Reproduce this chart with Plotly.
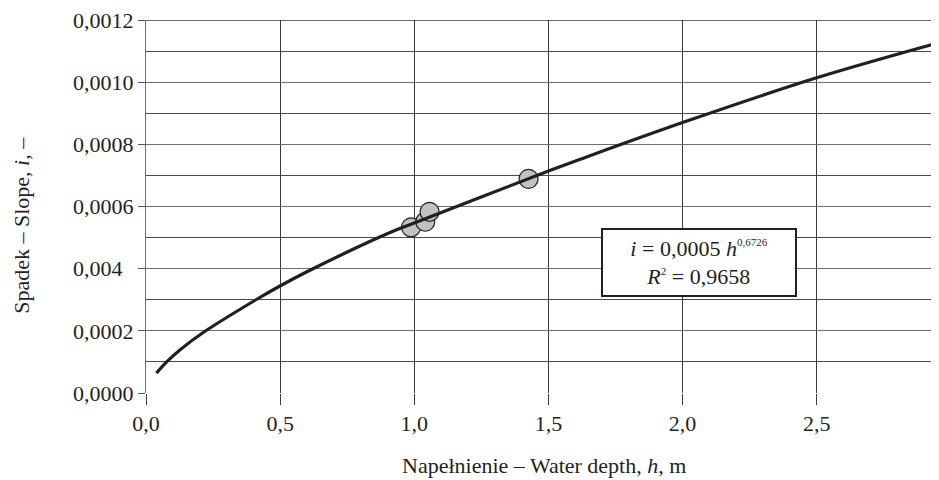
import plotly.graph_objects as go

# Fitted curve (h in m, i dimensionless)
curve_h = [0.039, 0.077, 0.1285, 0.22, 0.41, 0.501, 0.60, 0.836, 0.948, 1.0, 1.5, 1.619, 2.0, 2.5, 2.956]
curve_i = [0.0000640, 0.0001, 0.000140, 0.0001985, 0.000300, 0.000345, 0.000390, 0.000488, 0.000530, 0.000547,
           0.000714, 0.000752, 0.000870, 0.001014, 0.001127]

# Measured points
pts_h = [0.988, 1.041, 1.057, 1.426]
pts_i = [0.000533, 0.000551, 0.000583, 0.000689]

x_tickvals = [0.0, 0.5, 1.0, 1.5, 2.0, 2.5]
x_ticktext = ["0,0", "0,5", "1,0", "1,5", "2,0", "2,5"]
y_tickvals = [0.0, 0.0002, 0.0004, 0.0006, 0.0008, 0.0010, 0.0012]
y_ticktext = ["0,0000", "0,0002", "0,004\u2002", "0,0006", "0,0008", "0,0010", "0,0012"]

FONT = "Liberation Serif"
INK = "#231f20"

fig = go.Figure()
fig.add_trace(go.Scatter(
    x=pts_h, y=pts_i, mode="markers",
    marker=dict(size=19, color="#c2c2c2", line=dict(color=INK, width=1.2)),
    showlegend=False, hoverinfo="skip"))
fig.add_trace(go.Scatter(
    x=curve_h, y=curve_i, mode="lines",
    line=dict(color=INK, width=3.2, shape="spline", smoothing=1.0),
    showlegend=False, hoverinfo="skip"))

# top border of the grid (gridline at the range end)
fig.add_shape(type="line", xref="paper", x0=0, x1=1, yref="y",
              y0=y_tickvals[-1], y1=y_tickvals[-1],
              line=dict(color="#3a3a3a", width=1.3), layer="below")

# the page body adds an 8px margin, so the figure is 8px smaller and shifted
fig.update_layout(
    width=931, height=472,
    margin=dict(l=137.5, r=0, t=12, b=87.3),
    paper_bgcolor="white", plot_bgcolor="white",
    font=dict(family=FONT, size=22, color=INK),
    showlegend=False,
    xaxis=dict(
        range=[0, 2.956], tickvals=x_tickvals, ticktext=x_ticktext,
        showgrid=True, gridcolor="#3a3a3a", gridwidth=1.2,
        ticks="outside", ticklen=11, tickcolor="#3a3a3a", tickwidth=1.2,
        showline=False, zeroline=False, ticklabeloverflow="allow",
        tickfont=dict(family=FONT, size=22, color=INK),
    ),
    yaxis=dict(
        range=[0, 0.0012], tickvals=y_tickvals, ticktext=y_ticktext,
        showgrid=True, gridcolor="#6e6e6e", gridwidth=1.3,
        ticks="outside", ticklen=7, tickcolor="#555", tickwidth=1.2,
        minor=dict(dtick=0.0001, tick0=0, showgrid=True, gridcolor="#4a4a4a", gridwidth=1.2, ticks=""),
        showline=True, linecolor="#6e6e6e", linewidth=1.3,
        zeroline=False, ticklabeloverflow="allow",
        tickfont=dict(family=FONT, size=22, color=INK),
    ),
    annotations=[
        dict(text="<i>i</i> = 0,0005 <i>h</i><sup><span style='font-size:11px'>0,6726</span></sup><br><i>R</i><sup><span style='font-size:11px'>2</span></sup> = 0,9658",
             x=2.061, y=0.000421, xref="x", yref="y", xanchor="center", yanchor="middle",
             showarrow=False, bgcolor="white", bordercolor=INK, borderwidth=2, borderpad=0,
             width=192, height=65, font=dict(family=FONT, size=22, color=INK)),
        dict(text="Spadek – Slope, <i>i</i>, –", textangle=-90,
             x=-0.158, y=0.45, xref="paper", yref="paper", xanchor="center", yanchor="middle",
             showarrow=False, font=dict(family=FONT, size=22, color=INK)),
        dict(text="Napełnienie – Water depth, <i>h</i>, m",
             x=0.502, y=-0.195, xref="paper", yref="paper", xanchor="center", yanchor="middle",
             showarrow=False, font=dict(family=FONT, size=22, color=INK)),
    ],
)

fig.write_html("out.html")
